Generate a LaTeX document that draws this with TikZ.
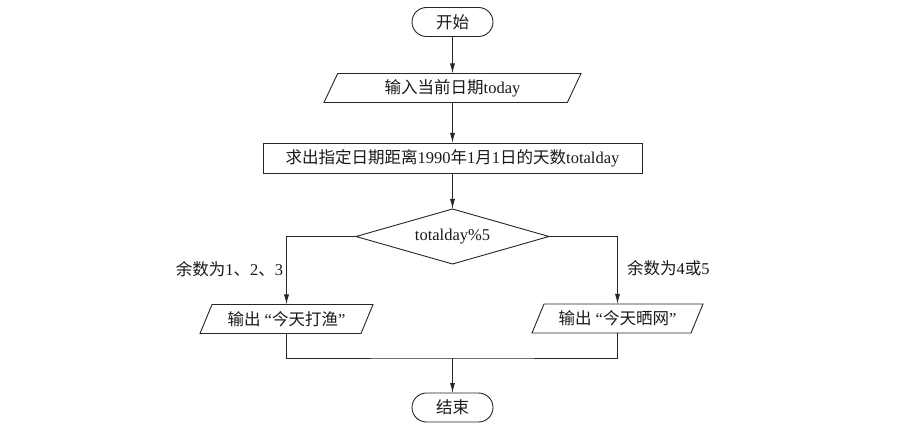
\documentclass[tikz,border=0pt]{standalone}
\usepackage{fontspec}
\setmainfont{Liberation Serif}
\newfontfamily\cjk{Noto Sans CJK SC}
\usetikzlibrary{shapes.geometric,arrows.meta}
\begin{document}
\begin{tikzpicture}[x=1pt,y=-1pt,
  base/.style={draw=black!85, line width=0.9pt, inner sep=0pt, outer sep=0pt,
    font=\fontsize{16.5}{20}\selectfont, text=black!90},
  term/.style={base, rectangle, rounded corners=14.5pt, minimum width=81pt, minimum height=29pt},
  io/.style={base, trapezium, trapezium left angle=52, trapezium right angle=128,
    trapezium stretches body, minimum height=29pt},
  proc/.style={base, rectangle, minimum width=379pt, minimum height=30pt},
  decision/.style={base, diamond, aspect=3.5, minimum width=193pt, minimum height=55pt},
  lbl/.style={inner sep=0pt, outer sep=0pt, font=\fontsize{16.5}{20}\selectfont, text=black!90},
  flow/.style={draw=black!85, line width=0.9pt, -{Latex[length=10pt,width=5pt]}},
  conn/.style={draw=black!85, line width=0.9pt}
]
\useasboundingbox (0,0) rectangle (911,433);

\node[term] (start) at (452.5,22) {{\cjk 开始}};
\node[io, minimum width=257pt] (input) at (452.5,88) {{\cjk 输入当前日期}today};
\node[proc] (calc) at (452.5,158) {{\cjk 求出指定日期距离}1990{\cjk 年}1{\cjk 月}1{\cjk 日的天数}totalday};
\node[decision] (dec) at (452.5,236.5) {totalday\%5};
\node[io, minimum width=173pt] (outL) at (286.5,319) {{\cjk 输出}\ “{\cjk 今天打渔}”};
\node[io, minimum width=171pt] (outR) at (617.5,318.5) {{\cjk 输出}\ “{\cjk 今天晒网}”};
\node[term] (end) at (452.5,407.5) {{\cjk 结束}};
\coordinate (m) at (452.5,358);

\node[lbl, anchor=east] (lL) at (283,269) {{\cjk 余数为}1{\cjk 、}2{\cjk 、}3};
\node[lbl, anchor=west] (lR) at (627,268) {{\cjk 余数为}4{\cjk 或}5};

\draw[flow] (start.south) -- (input.north);
\draw[flow] (input.south) -- (calc.north);
\draw[flow] (calc.south) -- (dec.north);
\draw[flow] (dec.west) -| (outL.north);
\draw[flow] (dec.east) -| (outR.north);
\draw[conn] (outL.south) |- (m) -| (outR.south);
\draw[flow] (m) -- (end.north);
\end{tikzpicture}
\end{document}
